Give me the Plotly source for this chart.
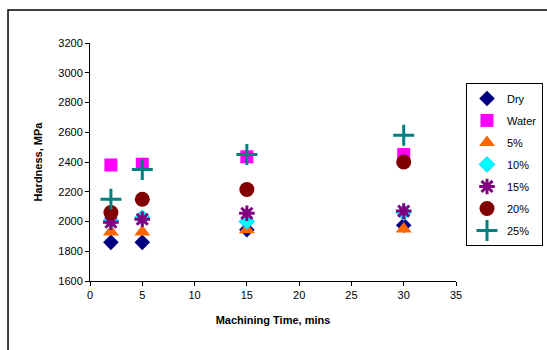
import plotly.graph_objects as go

# Machining time (mins) at which hardness was measured
times = [2, 5, 15, 30]

# Hardness (MPa) for each cooling condition
dry = [1860, 1860, 1945, 1975]
water = [2380, 2385, 2435, 2450]
pct5 = [1930, 1930, 1945, 1950]
pct10 = [2005, 2025, 2000, 2060]
pct15 = [1995, 2015, 2055, 2070]
pct20 = [2060, 2150, 2215, 2400]
pct25 = [2150, 2350, 2450, 2580]

series = [
    ("Dry", dry, dict(symbol="diamond", size=12, color="#000080")),
    ("Water", water, dict(symbol="square", size=13, color="#FF00FF")),
    ("5%", pct5, dict(symbol="triangle-up", size=14, color="#FF6600")),
    ("10%", pct10, dict(symbol="diamond", size=12, color="#00FFFF",
                        line=dict(color="#00CCFF", width=1))),
    ("15%", pct15, dict(symbol="asterisk-open", size=13, color="#800080",
                        line=dict(color="#800080", width=3))),
    ("20%", pct20, dict(symbol="circle", size=15, color="#800000")),
    ("25%", pct25, dict(symbol="cross-thin-open", size=15, color="#008080",
                        line=dict(color="#008080", width=3))),
]

fig = go.Figure()
for i, (name, vals, marker) in enumerate(series):
    fig.add_trace(go.Scatter(
        x=times, y=vals, name=name, mode="markers",
        marker=marker, legendgroup=f"g{i}",
    ))

axis_font = dict(family="Liberation Sans, Arial, sans-serif", size=11, color="#000000")

fig.update_layout(
    width=547, height=350,
    margin=dict(l=90, r=91, t=43, b=69, autoexpand=False),
    paper_bgcolor="white", plot_bgcolor="white",
    font=axis_font,
    showlegend=True,
    legend=dict(
        xref="container", yref="container",
        x=0.9927, y=0.763, xanchor="right", yanchor="top",
        bordercolor="#000000", borderwidth=1, bgcolor="white",
        font=dict(family="Liberation Sans, Arial, sans-serif", size=11),
        traceorder="grouped", tracegroupgap=3,
        itemwidth=30,
    ),
    xaxis=dict(
        range=[0, 35], tickvals=[0, 5, 10, 15, 20, 25, 30, 35],
        showgrid=False, zeroline=False, showline=True,
        linecolor="#000000", linewidth=1,
        ticks="outside", ticklen=4, tickcolor="#000000",
        title=dict(text="<b>Machining Time, mins</b>", font=axis_font, standoff=16),
    ),
    yaxis=dict(
        range=[1600, 3200], tickvals=list(range(1600, 3201, 200)),
        showgrid=False, zeroline=False, showline=True,
        linecolor="#000000", linewidth=1,
        ticks="outside", ticklen=4, tickcolor="#000000",
        title=dict(text="<b>Hardness, MPa</b>", font=axis_font, standoff=13),
    ),
)

# Outer chart-area frame
fig.add_shape(
    type="rect", xref="paper", yref="paper",
    x0=-0.224, x1=1.4, y0=-0.5, y1=1.139,
    line=dict(color="#000000", width=1.5), fillcolor="rgba(0,0,0,0)",
    layer="below",
)

fig.write_html("out.html")
